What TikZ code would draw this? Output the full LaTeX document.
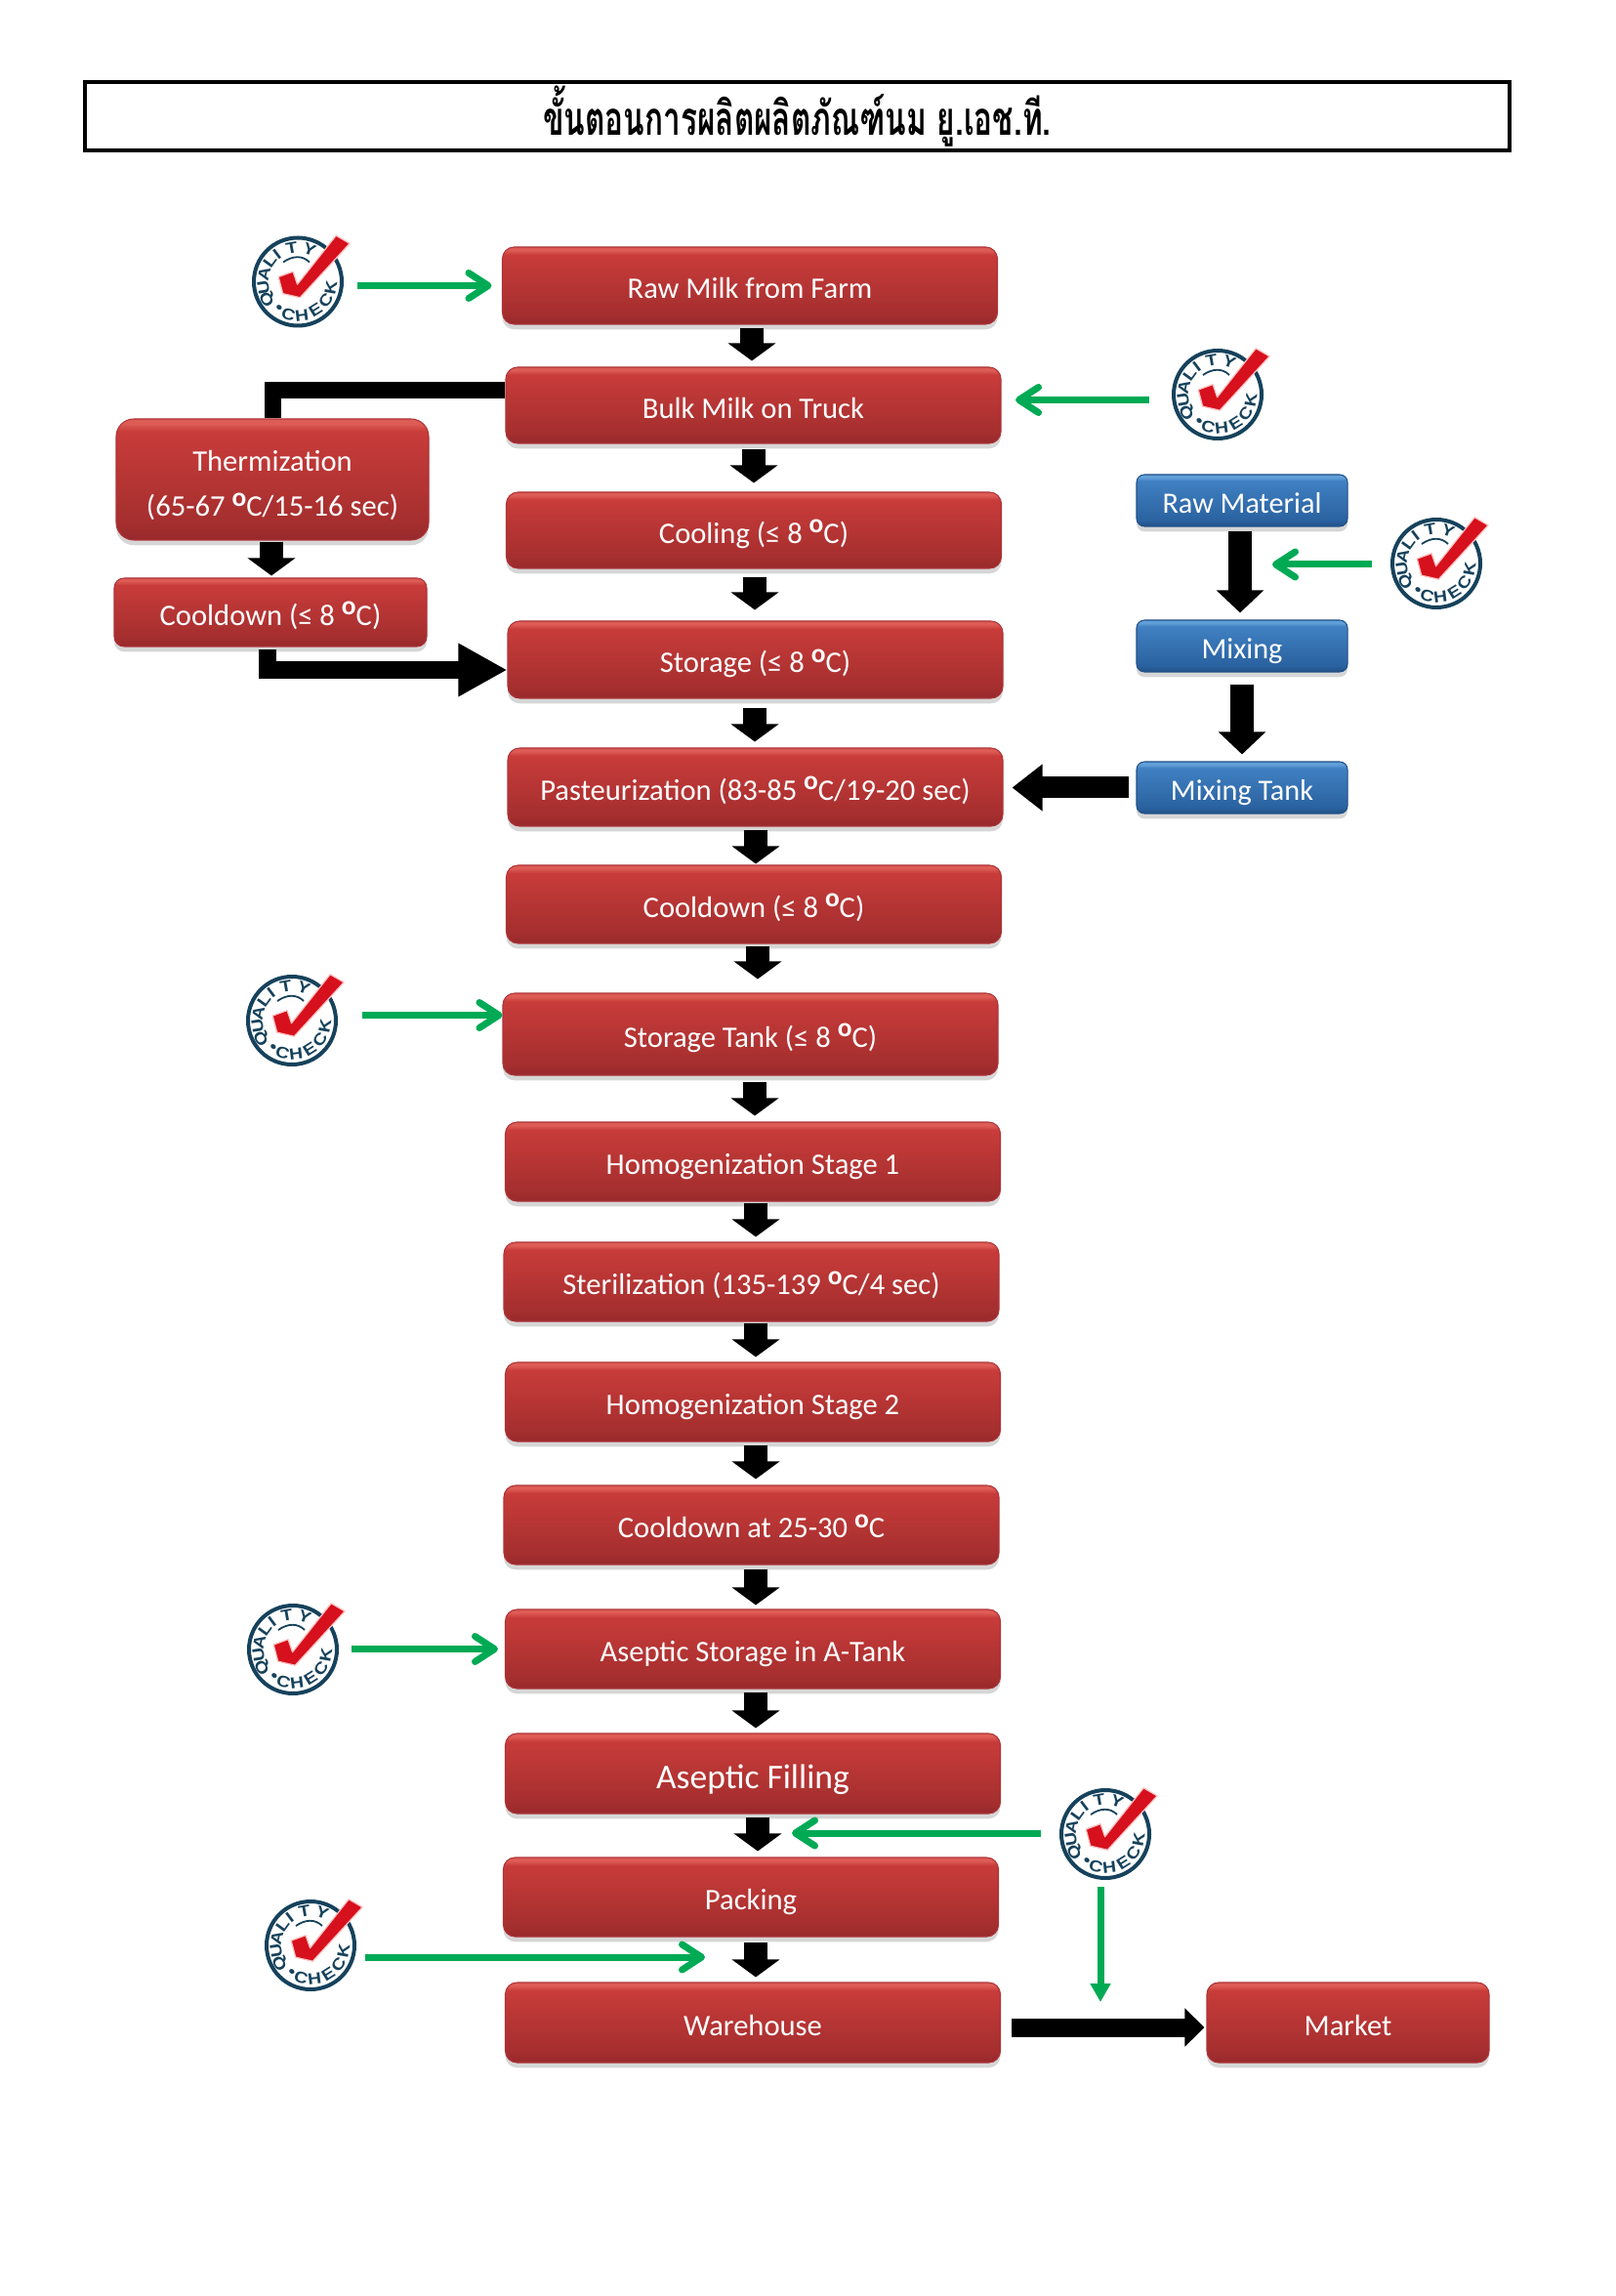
\documentclass[tikz,border=0pt]{standalone}
\usepackage{fontspec}
\setmainfont{Carlito}
\newfontfamily\thaifont[Script=Thai,FakeStretch=.66]{Loma}
\newfontfamily\stampfont[FakeStretch=1.2]{Liberation Sans}
\usetikzlibrary{arrows.meta,shadows}
\definecolor{stampblue}{RGB}{22,66,92}
\definecolor{checkred}{RGB}{214,16,28}
\definecolor{qcgreen}{RGB}{0,170,85}
\definecolor{redtop}{RGB}{222,92,86}
\definecolor{redhigh}{RGB}{200,60,58}
\definecolor{redlow}{RGB}{164,46,46}
\definecolor{redbase}{RGB}{150,40,44}
\definecolor{redline}{RGB}{172,52,56}
\definecolor{bluetop}{RGB}{96,158,216}
\definecolor{bluehigh}{RGB}{64,128,194}
\definecolor{bluelow}{RGB}{42,98,160}
\definecolor{bluebase}{RGB}{34,80,134}
\pgfdeclareverticalshading{redglow}{100bp}{color(0bp)=(redbase); color(25bp)=(redbase); color(31bp)=(redlow); color(70bp)=(redhigh); color(73bp)=(redtop); color(75bp)=(redtop); color(100bp)=(redtop)}
\pgfdeclareverticalshading{blueglow}{100bp}{color(0bp)=(bluebase); color(25bp)=(bluebase); color(31bp)=(bluelow); color(69bp)=(bluehigh); color(72bp)=(bluetop); color(75bp)=(bluetop); color(100bp)=(bluetop)}
\newcommand{\degc}{\raisebox{.72ex}{\fontsize{7.8}{8}\selectfont\textbf{o}}C}
\tikzset{
  redbox/.style={shading=redglow, draw=redline, line width=.3pt, rounded corners=.12cm, text=white,
                 inner sep=0pt, minimum width=5.07cm, minimum height=.8cm, align=center,
                 text height=.264cm, text depth=0pt, font=\fontsize{8.7}{14}\selectfont,
                 drop shadow={shadow xshift=0pt,shadow yshift=-1.5pt,opacity=.32}},
  bluebox/.style={redbox, shading=blueglow, draw=bluebase, rounded corners=.08cm,
                  minimum width=2.16cm, minimum height=.53cm, font=\fontsize{8.6}{14}\selectfont},
  qcring/.style={circle, draw=stampblue, line width=.04cm, minimum size=.9cm, inner sep=0pt},
  qcletter/.style={text=stampblue, inner sep=0pt, font=\stampfont\bfseries\fontsize{4.6}{5}\selectfont},
  stemarrow/.style={line width=.24cm, -{Triangle[length=.18cm,width=.48cm]}},
  longarrow/.style={line width=.235cm, -{Triangle[length=.23cm,width=.47cm]}},
  elbowline/.style={line width=.17cm},
  qcarrow/.style={draw=qcgreen, line width=.07cm, -{Straight Barb[length=.2cm,width=.26cm,round]}},
  qcsolid/.style={draw=qcgreen, line width=.07cm, -{Triangle[length=.19cm,width=.2cm]}},
  qcmark/.pic={
    \draw[stampblue, line width=.018cm] (-.15,.2) .. controls (-.05,.27) and (.05,.27) .. (.12,.2);
    \foreach \glyph/\ang in {Q/210,U/189,A/167,L/144,I/127,T/100,Y/70}
      \node[qcletter, rotate=\ang-90] (qctop\ang) at (\ang:.355) {\glyph};
    \foreach \glyph/\ang in {•/235,C/254,H/277,E/302,C/326,K/350}
      \node[qcletter, rotate=\ang+90] (qcbot\ang) at (\ang:.345) {\glyph};
    \filldraw[fill=checkred, draw=red!25, line width=.35pt, line join=round, scale=.45]
         (.87,1.05) -- (1.18,.87) -- (.05,-.36) -- (-.34,-.27) -- (-.44,.11) -- (-.11,.23) -- (-.01,-.06) -- cycle;
  }
}
\begin{document}
\begin{tikzpicture}
    \useasboundingbox (0,0) rectangle (16.54,-23.51);

    \node[draw, line width=.04cm, minimum width=14.59cm, minimum height=.7cm, inner sep=0pt,
          font=\thaifont\bfseries\fontsize{13.6}{16}\selectfont] (title) at (8.165,-1.19)
         {ขั้นตอนการผลิตผลิตภัณฑ์นม ยู.เอช.ที.};

    \node[redbox, minimum height=.79cm] (rawmilk) at (7.68,-2.925) {Raw Milk from Farm};
    \node[redbox, minimum height=.78cm] (bulk) at (7.715,-4.15) {Bulk Milk on Truck};
    \node[redbox, minimum height=.78cm] (cooling) at (7.72,-5.43) {Cooling (≤ 8 \degc)};
    \node[redbox, minimum height=.79cm] (storage) at (7.735,-6.755) {Storage (≤ 8 \degc)};
    \node[redbox] (pasteur) at (7.735,-8.06) {Pasteurization (83-85 \degc/19-20 sec)};
    \node[redbox] (cooldown) at (7.72,-9.26) {Cooldown (≤ 8 \degc)};
    \node[redbox, minimum height=.84cm] (tank) at (7.685,-10.59) {Storage Tank (≤ 8 \degc)};
    \node[redbox, minimum height=.81cm] (homone) at (7.71,-11.895) {Homogenization Stage 1};
    \node[redbox, minimum height=.81cm] (steril) at (7.695,-13.125) {Sterilization (135-139 \degc/4 sec)};
    \node[redbox, minimum height=.81cm] (homtwo) at (7.71,-14.355) {Homogenization Stage 2};
    \node[redbox, minimum height=.81cm] (coolroom) at (7.695,-15.615) {Cooldown at 25-30 \degc};
    \node[redbox, minimum height=.81cm] (asepstore) at (7.71,-16.885) {Aseptic Storage in A-Tank};
    \node[redbox, minimum height=.82cm, text height=.31cm, font=\fontsize{10.1}{14}\selectfont] (filling) at (7.71,-18.16) {Aseptic Filling};
    \node[redbox, minimum height=.81cm] (packing) at (7.69,-19.425) {Packing};
    \node[redbox, minimum height=.82cm] (warehouse) at (7.71,-20.71) {Warehouse};
    \node[redbox, minimum width=2.89cm, minimum height=.82cm] (market) at (13.805,-20.71) {Market};

    \node[redbox, minimum width=3.2cm, minimum height=1.24cm, rounded corners=.18cm, text height=, text depth=] (therm) at (2.79,-4.91)
         {\rule{0pt}{9.5pt}Thermization\\[-.8pt] (65-67 \degc/15-16 sec)};
    \node[redbox, minimum width=3.2cm, minimum height=.7cm, rounded corners=.1cm] (coolleft) at (2.77,-6.27)
         {Cooldown (≤ 8 \degc)};

    \node[bluebox] (rawmat) at (12.72,-5.125) {Raw Material};
    \node[bluebox] (mixing) at (12.72,-6.615) {Mixing};
    \node[bluebox] (mixtank) at (12.72,-8.065) {Mixing Tank};

    \node[qcring] (qcraw) at (3.05,-2.885) {};
    \node[qcring] (qcbulk) at (12.47,-4.04) {};
    \node[qcring] (qcmat) at (14.71,-5.77) {};
    \node[qcring] (qctank) at (2.99,-10.45) {};
    \node[qcring] (qcasept) at (3.00,-16.89) {};
    \node[qcring] (qcfill) at (11.32,-18.78) {};
    \node[qcring] (qcware) at (3.18,-19.92) {};
    \pic at (qcraw) {qcmark};
    \pic at (qcbulk) {qcmark};
    \pic at (qcmat) {qcmark};
    \pic at (qctank) {qcmark};
    \pic at (qcasept) {qcmark};
    \pic at (qcfill) {qcmark};
    \pic at (qcware) {qcmark};

    \coordinate (matgate) at (13.03,-5.78);
    \coordinate (fillgate) at (8.11,-18.77);
    \coordinate (packgate) at (7.22,-20.04);
    \coordinate (wareflag) at (11.27,-20.5);

    \draw[stemarrow, shorten <=.03cm, shorten >=.06cm] (7.70,0 |- rawmilk.south) -- (7.70,0 |- bulk.north);
    \draw[stemarrow, shorten <=.05cm, shorten >=.09cm] (7.72,0 |- bulk.south) -- (7.72,0 |- cooling.north);
    \draw[stemarrow, shorten <=.08cm, shorten >=.11cm] (7.73,0 |- cooling.south) -- (7.73,0 |- storage.north);
    \draw[stemarrow, shorten <=.09cm, shorten >=.06cm] (7.73,0 |- storage.south) -- (7.73,0 |- pasteur.north);
    \draw[stemarrow, shorten <=.03cm, shorten >=.01cm] (7.74,0 |- pasteur.south) -- (7.74,0 |- cooldown.north);
    \draw[stemarrow, shorten <=.02cm, shorten >=.14cm] (7.76,0 |- cooldown.south) -- (7.76,0 |- tank.north);
    \draw[stemarrow, shorten <=.06cm, shorten >=.06cm] (7.73,0 |- tank.south) -- (7.73,0 |- homone.north);
    \draw[stemarrow, shorten <=.01cm, shorten >=.05cm] (7.74,0 |- homone.south) -- (7.74,0 |- steril.north);
    \draw[stemarrow, shorten <=.01cm, shorten >=.05cm] (7.74,0 |- steril.south) -- (7.74,0 |- homtwo.north);
    \draw[stemarrow, shorten <=.03cm, shorten >=.06cm] (7.74,0 |- homtwo.south) -- (7.74,0 |- coolroom.north);
    \draw[stemarrow, shorten <=.04cm, shorten >=.04cm] (7.74,0 |- coolroom.south) -- (7.74,0 |- asepstore.north);
    \draw[stemarrow, shorten <=.03cm, shorten >=.05cm] (7.74,0 |- asepstore.south) -- (7.74,0 |- filling.north);
    \draw[stemarrow, shorten <=.03cm, shorten >=.06cm] (7.76,0 |- filling.south) -- (7.76,0 |- packing.north);
    \draw[stemarrow, shorten <=.05cm, shorten >=.05cm] (7.74,0 |- packing.south) -- (7.74,0 |- warehouse.north);
    \draw[stemarrow, shorten <=.01cm, shorten >=.02cm] (2.78,0 |- therm.south) -- (2.78,0 |- coolleft.north);

    \draw[longarrow, shorten <=.04cm, shorten >=.07cm] (12.70,0 |- rawmat.south) -- (12.70,0 |- mixing.north);
    \draw[longarrow, shorten <=.12cm, shorten >=.07cm] (12.72,0 |- mixing.south) -- (12.72,0 |- mixtank.north);
    \draw[line width=.22cm, -{Triangle[length=.31cm,width=.46cm]}, shorten <=.07cm, shorten >=.09cm]
         (mixtank.west) -- (mixtank.west -| pasteur.east);
    \draw[line width=.19cm, -{Triangle[length=.2cm,width=.38cm]}, shorten <=.11cm, shorten >=.02cm]
         ([yshift=-.05cm]warehouse.east) -- ([yshift=-.05cm]market.west);
    \draw[elbowline] ([yshift=.15cm]bulk.west) -| (therm.north);
    \draw[line width=.175cm, -{Triangle[length=.5cm,width=.51cm]}, shorten <=.02cm]
         (2.74,0 |- coolleft.south) |- ([yshift=-.105cm]storage.west);

    \draw[qcarrow, shorten <=.14cm, shorten >=.105cm] (qcraw.east |- rawmilk.west) -- (rawmilk.west);
    \draw[qcarrow, shorten <=.23cm, shorten >=.145cm] ([yshift=.055cm]qcbulk.west |- bulk.east) -- ([yshift=.055cm]bulk.east);
    \draw[qcarrow, shorten <=.19cm] (qcmat.west |- matgate) -- (matgate);
    \draw[qcarrow, shorten <=.25cm] ([yshift=.195cm]qctank.east |- tank.west) -- ([yshift=.195cm]tank.west);
    \draw[qcarrow, shorten <=.13cm, shorten >=.07cm] (qcasept.east |- asepstore.west) -- (asepstore.west);
    \draw[qcarrow, shorten <=.19cm] (qcfill.west |- fillgate) -- (fillgate);
    \draw[qcsolid, shorten <=.07cm] (qcfill.south -| wareflag) -- (wareflag);
    \draw[qcarrow, shorten <=.09cm] (qcware.east |- packgate) -- (packgate);
\end{tikzpicture}
\end{document}
